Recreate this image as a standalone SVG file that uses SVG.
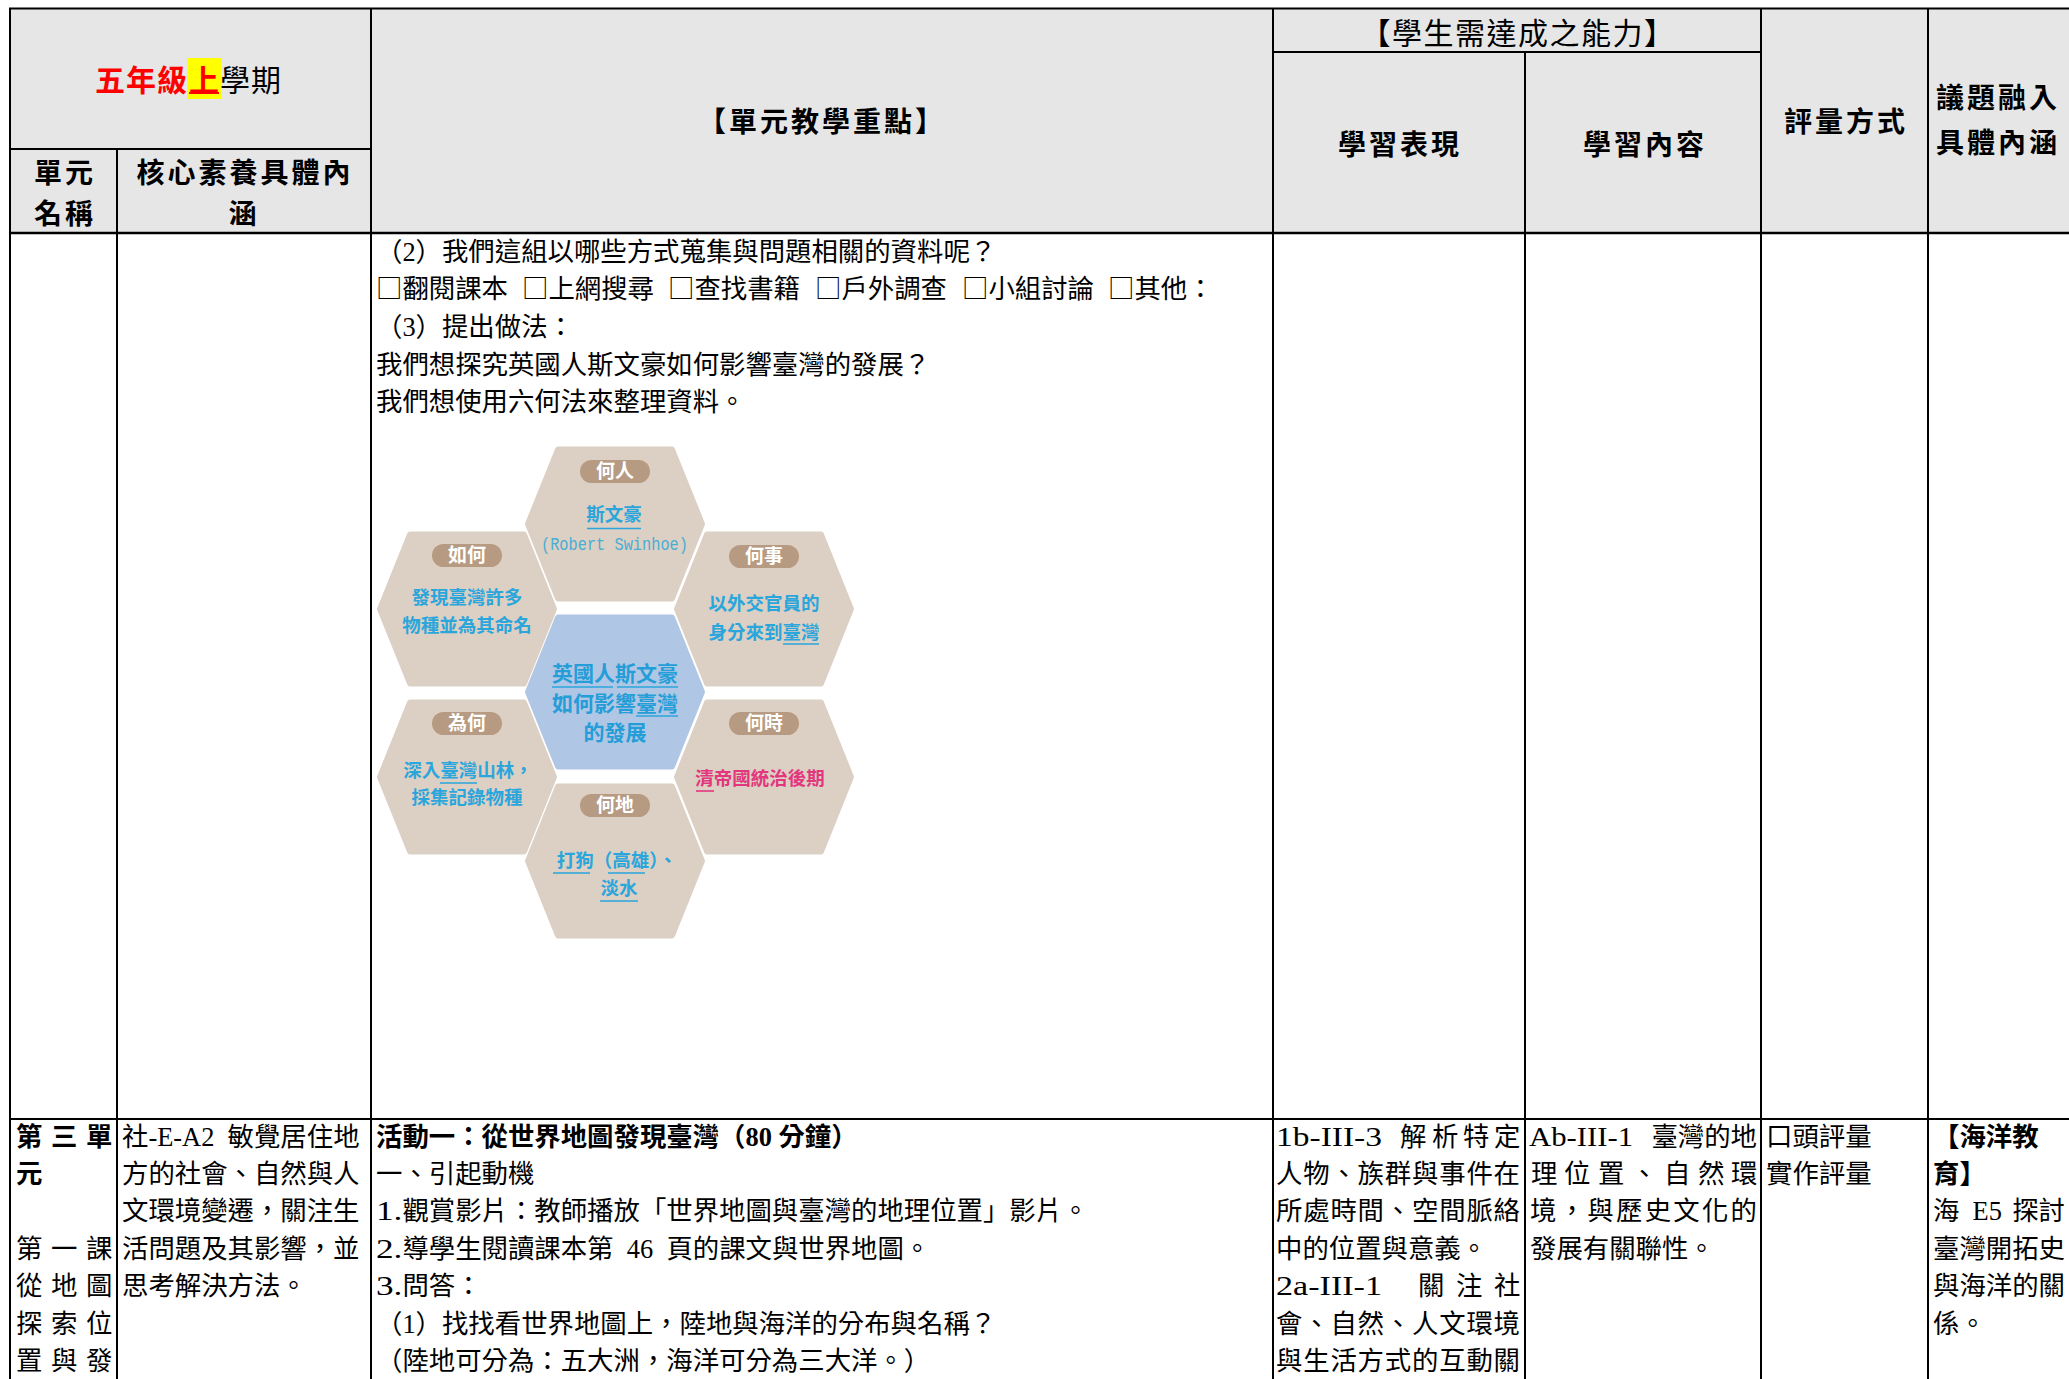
<svg xmlns="http://www.w3.org/2000/svg" width="2069" height="1379" viewBox="0 0 2069 1379">
<style>
.t{font-family:"Liberation Serif","Noto Sans CJK TC",serif;font-size:26.4px;fill:#000}
.cj{font-family:"Noto Sans CJK TC",sans-serif}
.b{font-weight:bold}
.h{font-family:"Noto Sans CJK TC",sans-serif;font-size:28px;fill:#000;letter-spacing:3px}
.hm{text-anchor:middle}
.g{stroke:#000;stroke-width:2;fill:none}
.hx{fill:#dccfc3;stroke:#dccfc3;stroke-width:6;stroke-linejoin:round}
.hc{fill:#afc7e4;stroke:#afc7e4;stroke-width:6;stroke-linejoin:round}
.pill{fill:#b69b82}
.pt{font-family:"Noto Sans CJK TC",sans-serif;font-size:19px;font-weight:bold;fill:#fff;text-anchor:middle}
.ht{font-family:"Noto Sans CJK TC",sans-serif;font-size:18.5px;font-weight:bold;fill:#2aa6dc;text-anchor:middle}
.ct{font-family:"Noto Sans CJK TC",sans-serif;font-size:21px;font-weight:bold;fill:#249dd8;text-anchor:middle}
.ul{stroke:#2aa6dc;stroke-width:1.6}
</style>
<defs>
<polygon id="hex" points="-57,-74.5 57,-74.5 87,0 57,74.5 -57,74.5 -87,0"/>
</defs>
<rect x="0" y="0" width="2069" height="1379" fill="#fff"/>
<rect x="10" y="8.5" width="2059" height="224.5" fill="#e6e6e6"/>

<g id="grid" class="g">
<line x1="9" y1="8.5" x2="2069" y2="8.5"/>
<line x1="10" y1="8" x2="10" y2="1379"/>
<line x1="117" y1="149" x2="117" y2="1379"/>
<line x1="371" y1="8" x2="371" y2="1379"/>
<line x1="1273" y1="8" x2="1273" y2="1379"/>
<line x1="1525" y1="52" x2="1525" y2="1379"/>
<line x1="1761" y1="8" x2="1761" y2="1379"/>
<line x1="1928" y1="8" x2="1928" y2="1379"/>
<line x1="1273" y1="52" x2="1761" y2="52"/>
<line x1="10" y1="149" x2="371" y2="149"/>
<line x1="10" y1="233" x2="2069" y2="233" stroke-width="2.5"/>
<line x1="10" y1="1119" x2="2069" y2="1119"/>
</g>

<g id="hdr-semester">
<rect x="187" y="58" width="34" height="41" fill="#ffff00"/>
<text class="h b" style="fill:#ff0000;letter-spacing:0"><tspan x="95" y="91" font-size="30">五</tspan><tspan x="126" y="91" font-size="30">年</tspan><tspan x="157" y="91" font-size="30">級</tspan><tspan x="189" y="91" font-size="30">上</tspan></text>
<line x1="189" y1="93" x2="219" y2="93" stroke="#ff0000" stroke-width="2"/>
<text class="h" style="letter-spacing:0;font-weight:normal"><tspan x="220" y="91" font-size="30">學</tspan><tspan x="251" y="91" font-size="30">期</tspan></text>
</g>
<g id="hdr-unit">
<text class="h b hm" x="65" y="183">單元</text>
<text class="h b hm" x="65" y="224">名稱</text>
</g>
<g id="hdr-core">
<text class="h b hm" x="245" y="183">核心素養具體內</text>
<text class="h b hm" x="244" y="224">涵</text>
</g>
<g id="hdr-focus">
<text class="h b hm" x="822" y="132" font-size="29">【單元教學重點】</text>
</g>
<g id="hdr-ability">
<text class="h hm" x="1518" y="44" style="font-size:30px;letter-spacing:1.5px">【學生需達成之能力】</text>
</g>
<g id="hdr-perf">
<text class="h b hm" x="1400" y="155">學習表現</text>
</g>
<g id="hdr-content">
<text class="h b hm" x="1645" y="155">學習內容</text>
</g>
<g id="hdr-assess">
<text class="h b hm" x="1846" y="132">評量方式</text>
</g>
<g id="hdr-issue">
<text class="h b" x="1936" y="108">議題融入</text>
<text class="h b" x="1936" y="153">具體內涵</text>
</g>

<g id="top-text">
<text class="t" x="376" y="261">（2）我們這組以哪些方式蒐集與問題相關的資料呢？</text>
<text class="t" x="376" y="298"><tspan class="cj">□</tspan>翻閱課本</text>
<text class="t" x="522" y="298"><tspan class="cj">□</tspan>上網搜尋</text>
<text class="t" x="668" y="298"><tspan class="cj">□</tspan>查找書籍</text>
<text class="t" x="815" y="298"><tspan class="cj">□</tspan>戶外調查</text>
<text class="t" x="962" y="298"><tspan class="cj">□</tspan>小組討論</text>
<text class="t" x="1108" y="298"><tspan class="cj">□</tspan>其他：</text>
<text class="t" x="376" y="336">（3）提出做法：</text>
<text class="t" x="376" y="374">我們想探究英國人斯文豪如何影響臺灣的發展？</text>
<text class="t" x="376" y="411">我們想使用六何法來整理資料。</text>
</g>

<g id="hex-who">
<use href="#hex" x="615" y="524" class="hx"/>
<rect x="580" y="460" width="70" height="23" rx="11.5" class="pill"/>
<text class="pt" x="615" y="478">何人</text>
<text class="ht" x="614" y="521">斯文豪</text>
<line x1="587" y1="528.5" x2="641" y2="528.5" class="ul"/>
<text x="541" y="550" font-family="Liberation Mono, monospace" font-size="19" fill="#48aed3" textLength="147" lengthAdjust="spacingAndGlyphs">(Robert Swinhoe)</text>
</g>
<g id="hex-how">
<use href="#hex" x="467" y="609" class="hx"/>
<rect x="432" y="544" width="70" height="23" rx="11.5" class="pill"/>
<text class="pt" x="467" y="562">如何</text>
<text class="ht" x="467" y="604">發現臺灣許多</text>
<text class="ht" x="467" y="632">物種並為其命名</text>
</g>
<g id="hex-what">
<use href="#hex" x="764" y="609" class="hx"/>
<rect x="729" y="545" width="70" height="23" rx="11.5" class="pill"/>
<text class="pt" x="764" y="563">何事</text>
<text class="ht" x="764" y="610">以外交官員的</text>
<text class="ht" x="764" y="639">身分來到臺灣</text>
<line x1="783" y1="644" x2="819" y2="644" class="ul"/>
</g>
<g id="hex-center">
<use href="#hex" x="615" y="692" class="hc"/>
<text class="ct" x="615" y="681">英國人斯文豪</text>
<line x1="552" y1="687" x2="613" y2="687" class="ul"/>
<line x1="617" y1="687" x2="678" y2="687" class="ul"/>
<text class="ct" x="615" y="711">如何影響臺灣</text>
<line x1="636" y1="716" x2="678" y2="716" class="ul"/>
<text class="ct" x="615" y="740">的發展</text>
</g>
<g id="hex-why">
<use href="#hex" x="467" y="777" class="hx"/>
<rect x="432" y="712" width="70" height="23" rx="11.5" class="pill"/>
<text class="pt" x="467" y="730">為何</text>
<text class="ht" x="468" y="777">深入臺灣山林，</text>
<line x1="440" y1="783" x2="477" y2="783" class="ul"/>
<text class="ht" x="467" y="804">採集記錄物種</text>
</g>
<g id="hex-when">
<use href="#hex" x="764" y="777" class="hx"/>
<rect x="729" y="712" width="70" height="23" rx="11.5" class="pill"/>
<text class="pt" x="764" y="730">何時</text>
<text class="ht" x="760" y="785" style="fill:#e2377e">清帝國統治後期</text>
<line x1="696" y1="791" x2="714" y2="791" stroke="#e2377e" stroke-width="1.6"/>
</g>
<g id="hex-where">
<use href="#hex" x="615" y="861" class="hx"/>
<rect x="580" y="794" width="70" height="23" rx="11.5" class="pill"/>
<text class="pt" x="615" y="812">何地</text>
<text class="ht" x="617" y="867">打狗（高雄）、</text>
<line x1="553" y1="873" x2="590" y2="873" class="ul"/>
<line x1="608" y1="873" x2="645" y2="873" class="ul"/>
<text class="ht" x="619" y="895">淡水</text>
<line x1="600" y1="901" x2="638" y2="901" class="ul"/>
</g>

<g id="cell-unit">
<text class="t b" x="16 51 86" y="1146">第三單</text>
<text class="t b" x="16" y="1183">元</text>
<text class="t" x="16 51 86" y="1258">第一課</text>
<text class="t" x="16 51 86" y="1295">從地圖</text>
<text class="t" x="16 51 86" y="1333">探索位</text>
<text class="t" x="16 51 86" y="1370">置與發</text>
</g>
<g id="cell-core">
<text class="t" x="122" y="1146">社</text>
<text class="t" x="148.4" y="1146" textLength="66" lengthAdjust="spacingAndGlyphs">-E-A2</text>
<text class="t" x="227.6" y="1146">敏覺居住地</text>
<text class="t" x="122" y="1183">方的社會、自然與人</text>
<text class="t" x="122" y="1220">文環境變遷，關注生</text>
<text class="t" x="122" y="1258">活問題及其影響，並</text>
<text class="t" x="122" y="1295">思考解決方法。</text>
</g>
<g id="cell-activity">
<text class="t b" x="376" y="1146">活動一：從世界地圖發現臺灣（80 分鐘）</text>
<text class="t" x="376" y="1183">一、引起動機</text>
<text class="t" x="376" y="1220" textLength="26.4" lengthAdjust="spacingAndGlyphs">1.</text>
<text class="t" x="402.4" y="1220">觀賞影片：教師播放「世界地圖與臺灣的地理位置」影片。</text>
<text class="t" x="376" y="1258" textLength="26.4" lengthAdjust="spacingAndGlyphs">2.</text>
<text class="t" x="402.4" y="1258">導學生閱讀課本第</text>
<text class="t" x="626.8" y="1258">46</text>
<text class="t" x="666.4" y="1258">頁的課文與世界地圖。</text>
<text class="t" x="376" y="1295" textLength="26.4" lengthAdjust="spacingAndGlyphs">3.</text>
<text class="t" x="402.4" y="1295">問答：</text>
<text class="t" x="376" y="1333">（1）找找看世界地圖上，陸地與海洋的分布與名稱？</text>
<text class="t" x="376" y="1370">（陸地可分為：五大洲，海洋可分為三大洋。）</text>
</g>
<g id="cell-performance">
<text class="t" x="1276" y="1146" textLength="106" lengthAdjust="spacingAndGlyphs">1b-III-3</text>
<text class="t" x="1400 1432 1463 1494" y="1146">解析特定</text>
<text class="t" x="1276" y="1183" textLength="244" lengthAdjust="spacing">人物、族群與事件在</text>
<text class="t" x="1276" y="1220" textLength="244" lengthAdjust="spacing">所處時間、空間脈絡</text>
<text class="t" x="1276" y="1258">中的位置與意義。</text>
<text class="t" x="1276" y="1295" textLength="106" lengthAdjust="spacingAndGlyphs">2a-III-1</text>
<text class="t" x="1418 1456 1494" y="1295">關注社</text>
<text class="t" x="1276" y="1333" textLength="244" lengthAdjust="spacing">會、自然、人文環境</text>
<text class="t" x="1276" y="1370" textLength="244" lengthAdjust="spacing">與生活方式的互動關</text>
</g>
<g id="cell-content">
<text class="t" x="1529" y="1146" textLength="104" lengthAdjust="spacingAndGlyphs">Ab-III-1</text>
<text class="t" x="1757" y="1146" text-anchor="end">臺灣的地</text>
<text class="t" x="1531 1564 1598 1631 1664 1698 1731" y="1183">理位置、自然環</text>
<text class="t" x="1530" y="1220" textLength="227" lengthAdjust="spacing">境，與歷史文化的</text>
<text class="t" x="1530" y="1258">發展有關聯性。</text>
</g>
<g id="cell-assess">
<text class="t" x="1766" y="1146">口頭評量</text>
<text class="t" x="1766" y="1183">實作評量</text>
</g>
<g id="cell-issue">
<text class="t b" x="1933" y="1146">【海洋教</text>
<text class="t b" x="1933" y="1183">育】</text>
<text class="t" x="1933" y="1220">海</text>
<text class="t" x="1972.6" y="1220">E5</text>
<text class="t" x="2012.2" y="1220">探討</text>
<text class="t" x="1933" y="1258">臺灣開拓史</text>
<text class="t" x="1933" y="1295">與海洋的關</text>
<text class="t" x="1933" y="1333">係。</text>
</g>
</svg>
